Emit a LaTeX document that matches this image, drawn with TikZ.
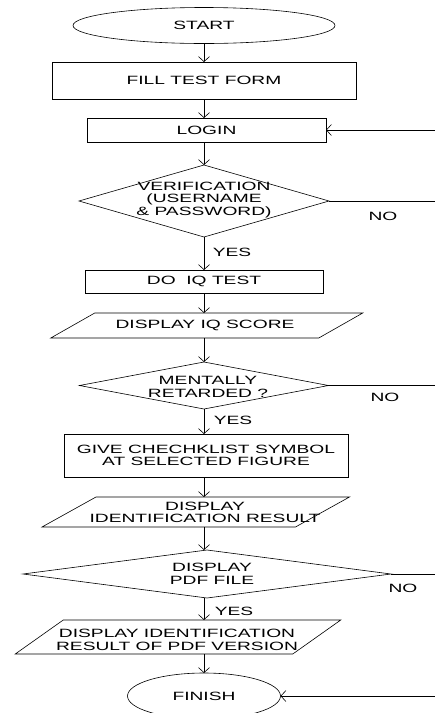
\documentclass[tikz,border=0pt]{standalone}
\usepackage{fontspec}
\setmainfont{Liberation Sans}[FakeStretch=1.6]
\usetikzlibrary{shapes.geometric,arrows.meta}
\begin{document}
\begin{tikzpicture}[x=1pt,y=-1pt,line width=0.6pt,
  every node/.style={font=\fontsize{12}{12.4}\selectfont,inner sep=0pt,outer sep=0pt},
  box/.style={draw,rectangle},
  oval/.style={draw,ellipse},
  decision/.style={draw,diamond},
  txt/.style={align=center},
  arr/.style={-{Straight Barb[length=5pt,width=11pt]}}]
\useasboundingbox (0,0) rectangle (435,713);
\coordinate (ax) at (204,0);
\coordinate (edge) at (436,0);
% shapes
\node[oval,minimum width=262pt,minimum height=36pt] (start) at (204,25.5) {START};
\node[box,minimum width=304pt,minimum height=37pt] (fill) at (204,80.5) {FILL TEST FORM};
\node[box,minimum width=239pt,minimum height=24pt] (login) at (206.5,130) {LOGIN};
\node[decision,minimum width=250pt,minimum height=72pt] (ver) at (204,201) {};
\node[txt] (vert) at (204,200) {VERIFICATION\\(USERNAME\\\& PASSWORD)};
\node[box,minimum width=238pt,minimum height=23pt] (doiq) at (204,281.5) {DO\ \ IQ TEST};
\node[minimum width=268pt,minimum height=25pt] (iq) at (206.75,325.5) {};
\draw ([xshift=22pt]iq.north west) -- ([xshift=22pt]iq.north east) -- ([xshift=-22pt]iq.south east) -- ([xshift=-22pt]iq.south west) -- cycle;
\node[txt] (iqt) at (205,325.5) {DISPLAY IQ SCORE};
\node[decision,minimum width=249pt,minimum height=47pt] (ment) at (204,385.5) {};
\node[txt] (mentt) at (208,387) {MENTALLY\\RETARDED ?};
\node[box,txt,minimum width=284pt,minimum height=43pt] (give) at (206,455.5) {GIVE CHECHKLIST SYMBOL\\AT SELECTED FIGURE};
\node[minimum width=253.5pt,minimum height=30pt] (res) at (195.75,512) {};
\draw ([xshift=27pt]res.north west) -- ([xshift=27pt]res.north east) -- ([xshift=-27pt]res.south east) -- ([xshift=-27pt]res.south west) -- cycle;
\node[txt] (rest) at (205,512.5) {DISPLAY\\IDENTIFICATION RESULT};
\node[decision,minimum width=368pt,minimum height=48pt] (pdf) at (207,574) {};
\node[txt] (pdft) at (212,574) {DISPLAY\\PDF FILE};
\node[minimum width=277.5pt,minimum height=34pt] (pv) at (178,637) {};
\draw ([xshift=24pt]pv.north west) -- ([xshift=24pt]pv.north east) -- ([xshift=-24pt]pv.south east) -- ([xshift=-24pt]pv.south west) -- cycle;
\node[txt] (pvt) at (177,640) {DISPLAY IDENTIFICATION\\RESULT OF PDF VERSION};
\node[oval,minimum width=153pt,minimum height=46pt] (finish) at (204,696) {FINISH};
% labels
\node (yes1) at (232,252) {YES};
\node (yes2) at (233,420) {YES};
\node (yes3) at (234,611) {YES};
\node (no1) at (383,216) {NO};
\node (no2) at (385,397) {NO};
\node (no3) at (403,588) {NO};
% connectors
\draw[arr] (start.south) -- (fill.north);
\draw[arr] (fill.south) -- (fill.south |- login.north);
\draw[arr] (ver.north |- login.south) -- (ver.north);
\draw[arr] (ver.south) -- (ver.south |- doiq.north);
\draw[arr] (doiq.south) -- (doiq.south |- iq.north);
\draw[arr] (ment.north |- iq.south) -- (ment.north);
\draw[arr] (ment.south) -- (ment.south |- give.north);
\draw[arr] (give.south -| ax) -- (res.north -| ax);
\draw[arr] (res.south -| ax) -- (pdf.north -| ax);
\draw[arr] (pdf.south -| ax) -- (pv.north -| ax);
\draw[arr] (pv.south -| ax) -- (finish.north);
% right-hand lines
\draw[arr] (login.east -| edge) -- (login.east);
\draw (ver.east) -- (ver.east -| edge);
\draw (ment.east) -- (ment.east -| edge);
\draw (pdf.east) -- (pdf.east -| edge);
\draw[arr] (finish.east -| edge) -- (finish.east);
\end{tikzpicture}
\end{document}
